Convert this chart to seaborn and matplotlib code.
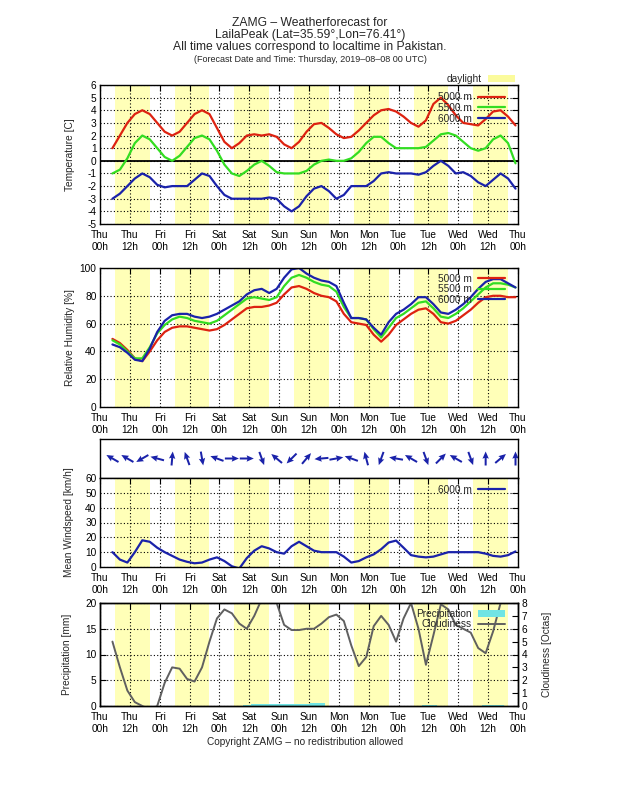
import numpy as np
import pandas as pd
import matplotlib
matplotlib.use("Agg")
import matplotlib.pyplot as plt
import seaborn as sns
from matplotlib.patches import Patch
from matplotlib.lines import Line2D

# ---------------- data (hours since Thu 00h local time) ----------------
hours = [5, 8, 11, 14, 17, 20, 23, 26, 29, 32, 35,
         38, 41, 44, 47, 50, 53, 56, 59, 62, 65, 68,
         71, 74, 77, 80, 83, 86, 89, 92, 95, 98, 101,
         104, 107, 110, 113, 116, 119, 122, 125, 128, 131, 134,
         137, 140, 143, 146, 149, 152, 155, 158, 161, 164, 167]

temp_5000 = [1.0, 2.0, 3.0, 3.7, 4.0, 3.7, 3.0, 2.3, 2.0, 2.3, 3.0,
             3.7, 4.0, 3.7, 2.6, 1.5, 1.0, 1.4, 2.0, 2.1, 2.0, 2.1,
             1.9, 1.3, 1.0, 1.5, 2.3, 2.9, 3.0, 2.6, 2.1, 1.8, 1.9,
             2.4, 3.0, 3.6, 4.0, 4.1, 3.9, 3.5, 3.0, 2.7, 3.2, 4.5,
             5.0, 4.4, 3.6, 3.0, 2.9, 2.8, 3.3, 3.9, 4.0, 3.5, 2.8]
temp_5500 = [-1.0, -0.7, 0.2, 1.4, 2.0, 1.7, 1.0, 0.3, 0.0, 0.4, 1.1,
             1.8, 2.0, 1.7, 0.8, -0.3, -1.0, -1.2, -0.8, -0.3, 0.0, -0.4,
             -0.9, -1.0, -1.0, -1.0, -0.8, -0.3, 0.0, 0.1, 0.0, 0.0, 0.2,
             0.7, 1.4, 1.9, 1.9, 1.4, 1.0, 1.0, 1.0, 1.0, 1.1, 1.6,
             2.1, 2.2, 2.0, 1.5, 1.0, 0.8, 1.0, 1.7, 2.0, 1.4, -0.2]
temp_6000 = [-3.0, -2.6, -2.0, -1.4, -1.0, -1.3, -1.9, -2.1, -2.0, -2.0, -2.0,
             -1.5, -1.0, -1.2, -2.0, -2.7, -3.0, -3.0, -3.0, -3.0, -3.0, -2.9,
             -3.0, -3.6, -4.0, -3.6, -2.8, -2.2, -2.0, -2.4, -3.0, -2.7, -2.0,
             -2.0, -2.0, -1.6, -1.0, -0.9, -1.0, -1.0, -1.0, -1.1, -0.9, -0.4,
             0.0, -0.4, -1.0, -0.9, -1.2, -1.7, -2.0, -1.5, -1.0, -1.4, -2.2]

rh_5000 = [49, 46, 41, 35, 33, 40, 48, 54, 57, 58, 58,
           57, 56, 55, 56, 59, 63, 67, 71, 72, 72, 73,
           75, 81, 86, 87, 85, 82, 80, 79, 76, 67, 61,
           60, 59, 52, 47, 52, 59, 63, 67, 70, 71, 67,
           61, 60, 62, 66, 70, 75, 79, 80, 80, 79, 79]
rh_5500 = [48, 45, 40, 35, 35, 43, 53, 59, 63, 65, 64,
           62, 61, 60, 62, 66, 70, 74, 78, 79, 78, 77,
           79, 87, 93, 95, 93, 90, 88, 87, 83, 72, 64,
           64, 63, 56, 50, 57, 64, 67, 71, 75, 76, 71,
           65, 64, 67, 71, 76, 81, 86, 89, 89, 88, 86]
rh_6000 = [45, 43, 39, 34, 33, 42, 54, 62, 66, 67, 67,
           65, 64, 65, 67, 70, 73, 76, 81, 84, 85, 82,
           85, 93, 99, 100, 96, 93, 91, 90, 87, 75, 64,
           64, 63, 57, 52, 61, 67, 70, 74, 79, 79, 74,
           68, 67, 70, 74, 79, 85, 90, 92, 92, 89, 86]

wind_6000 = [10, 5, 3, 10, 18, 17, 13, 10, 7.5, 5, 3.5,
             2.5, 3, 5, 6.5, 4, 0.5, -1, 6, 11, 14, 12.5,
             10, 9, 14, 17, 14, 11, 10, 10, 10, 7, 3,
             4, 6.5, 8.5, 12, 16.5, 17.8, 13, 8, 7, 6.5, 7,
             8.5, 10, 10, 10, 10, 10, 9, 7.5, 7, 8, 10.5]

arrow_hours = [5, 11, 17, 23, 29, 35, 41, 47, 53, 59, 65, 71, 77, 83,
               89, 95, 101, 107, 113, 119, 125, 131, 137, 143, 149, 155, 161, 167]
arrow_dir_deg = [150, 150, 210, 165, 85, 110, 280, 160, 0, 0, 290, 140, 225, 50,
                 185, 10, 160, 105, 250, 170, 150, 290, 45, 150, 290, 90, 40, 90]

cloudiness = [5.0, 3.0, 1.2, 0.3, 0.0, -0.3, 0.0, 1.8, 3.0, 2.9, 2.1,
              1.9, 3.0, 5.0, 6.8, 7.5, 7.2, 6.4, 6.0, 7.0, 8.3, 8.6,
              8.0, 6.3, 5.9, 5.9, 6.0, 6.0, 6.4, 6.9, 7.1, 6.6, 4.7,
              3.1, 3.8, 6.2, 7.0, 6.3, 5.0, 6.8, 8.0, 6.0, 3.2, 5.5,
              7.9, 7.5, 6.3, 6.0, 5.7, 4.5, 4.1, 5.8, 8.0, 9.0, 9.0]
precipitation = [0, 0, 0, 0, 0, 0, 0, 0, 0, 0, 0,
                 0, 0, 0, 0, 0, 0, 0, 0.25, 0.3, 0.45, 0.45,
                 0.35, 0.3, 0.3, 0.3, 0.35, 0.65, 0.55, 0.05, 0, 0.05, 0,
                 0, 0, 0, 0, 0, 0, 0, 0, 0, 0.1, 0.15,
                 0, 0, 0, 0, 0, 0, 0.1, 0.2, 0.1, 0, 0.05]

daylight_start = [6, 30, 54, 78, 102, 126, 150]
daylight_end = [20, 44, 68, 92, 116, 140, 164]

xtick_pos = [0, 12, 24, 36, 48, 60, 72, 84, 96, 108, 120, 132, 144, 156, 168]
xtick_labels = ["Thu\n00h", "Thu\n12h", "Fri\n00h", "Fri\n12h", "Sat\n00h", "Sat\n12h",
                "Sun\n00h", "Sun\n12h", "Mon\n00h", "Mon\n12h", "Tue\n00h", "Tue\n12h",
                "Wed\n00h", "Wed\n12h", "Thu\n00h"]

title_lines = ["ZAMG \u2013 Weatherforecast for",
               "LailaPeak (Lat=35.59\u00b0,Lon=76.41\u00b0)",
               "All time values correspond to localtime in Pakistan."]
subtitle = "(Forecast Date and Time: Thursday, 2019\u201308\u201308 00 UTC)"

# ---------------- style ----------------
sns.set_theme(style="white")
plt.rcParams["font.family"] = ["Liberation Sans", "DejaVu Sans"]
plt.rcParams["axes.unicode_minus"] = False
plt.rcParams["axes.edgecolor"] = "black"
plt.rcParams["axes.linewidth"] = 1.0

RED, GREEN, BLUE = "#dd2211", "#33dd22", "#1a22aa"
GRAY = "#606060"
YELLOW = "#ffffb8"
CYAN = "#70e4e4"
FS = 7.3

W, H = 620, 802
fig = plt.figure(figsize=(W / 100, H / 100), dpi=100)


def add_ax(top, bottom, left=100, right=518):
    return fig.add_axes([left / W, 1 - bottom / H, (right - left) / W, (bottom - top) / H])


def style(ax, yticks, ylim, xlabels=True, grid=True, daylight=True):
    ax.set_xlim(0, 168)
    ax.set_ylim(*ylim)
    ax.set_yticks(yticks)
    ax.set_yticklabels([str(t) for t in yticks])
    ax.set_xticks(xtick_pos)
    if xlabels:
        ax.set_xticklabels(xtick_labels, linespacing=1.2)
    else:
        ax.set_xticklabels([])
    ax.tick_params(direction="in", length=4, width=0.8, top=True, right=True,
                   labelsize=FS, pad=4.5, colors="black")
    ax.tick_params(axis="y", pad=2.5)
    for s in ax.spines.values():
        s.set_color("black")
        s.set_linewidth(1.0)
    if daylight:
        for a, b in zip(daylight_start, daylight_end):
            ax.axvspan(a, b, color=YELLOW, lw=0, zorder=0)
    if grid:
        ax.set_axisbelow(True)
        ax.grid(True, color="black", linestyle=(0, (1, 2)), linewidth=0.8)
    ax.set_xlabel("")


def legend(handles, labels, right_px, top_px, loc="upper right"):
    fig.legend(handles, labels, loc=loc, bbox_to_anchor=(right_px / W, 1 - top_px / H),
               frameon=False, markerfirst=False, fontsize=FS, handlelength=2.7,
               handletextpad=0.6, labelspacing=0.05, borderpad=0, borderaxespad=0)


# ---------------- title ----------------
for txt, yb in zip(title_lines, [26.5, 38, 50]):
    fig.text(310 / W, 1 - yb / H, txt, ha="center", va="baseline", fontsize=8.7)
fig.text(310 / W, 1 - 62.5 / H, subtitle, ha="center", va="baseline", fontsize=6.5)

# ---------------- temperature ----------------
ax_t = add_ax(85, 224)
style(ax_t, list(range(-5, 7)), (-5, 6))
ax_t.axhline(0, color="black", lw=1.3, zorder=1.5)
df_t = pd.DataFrame({"h": hours, "5000 m": temp_5000, "5500 m": temp_5500, "6000 m": temp_6000})
for col, c in zip(["5000 m", "5500 m", "6000 m"], [RED, GREEN, BLUE]):
    sns.lineplot(data=df_t, x="h", y=col, ax=ax_t, color=c, lw=1.6, legend=False)
ax_t.set_xlabel("")
ax_t.set_ylabel("Temperature [C]", fontsize=FS)
ax_t.yaxis.set_label_coords((75 - 100) / 418, 0.5)
legend([Line2D([], [], color=c, lw=1.6) for c in [RED, GREEN, BLUE]],
       ["5000 m", "5500 m", "6000 m"], 505, 92.5)
legend([Patch(facecolor="#fbfb9c", edgecolor="none")], ["daylight"], 515, 79, loc="center right")

# ---------------- relative humidity ----------------
ax_r = add_ax(268, 407)
style(ax_r, [0, 20, 40, 60, 80, 100], (0, 100))
df_r = pd.DataFrame({"h": hours, "5000 m": rh_5000, "5500 m": rh_5500, "6000 m": rh_6000})
for col, c in zip(["5000 m", "5500 m", "6000 m"], [RED, GREEN, BLUE]):
    sns.lineplot(data=df_r, x="h", y=col, ax=ax_r, color=c, lw=1.6, legend=False)
ax_r.set_xlabel("")
ax_r.set_ylabel("Relative Humidity [%]", fontsize=FS)
ax_r.yaxis.set_label_coords((75 - 100) / 418, 0.5)
legend([Line2D([], [], color=c, lw=1.6) for c in [RED, GREEN, BLUE]],
       ["5000 m", "5500 m", "6000 m"], 505, 273.8)

# ---------------- wind direction arrows ----------------
ax_a = add_ax(439, 478)
ax_a.set_xlim(0, 168)
ax_a.set_ylim(0, 1)
ax_a.set_xticks([])
ax_a.set_yticks([])
for s in ax_a.spines.values():
    s.set_color("black")
    s.set_linewidth(1.0)
rad = np.deg2rad(arrow_dir_deg)
ax_a.quiver(arrow_hours, [0.5] * len(arrow_hours), np.cos(rad), np.sin(rad),
            angles="uv", pivot="middle", scale_units="inches", scale=1 / 0.14,
            units="dots", width=2.0, headwidth=3.2, headlength=3.6, headaxislength=3.2,
            color=BLUE)

# ---------------- wind speed ----------------
ax_s = add_ax(478, 567)
style(ax_s, [0, 10, 20, 30, 40, 50, 60], (0, 60))
df_s = pd.DataFrame({"h": hours, "6000 m": wind_6000})
sns.lineplot(data=df_s, x="h", y="6000 m", ax=ax_s, color=BLUE, lw=1.6, legend=False)
ax_s.set_xlabel("")
ax_s.set_ylabel("Mean Windspeed [km/h]", fontsize=FS)
ax_s.yaxis.set_label_coords((74 - 100) / 418, 0.5)
legend([Line2D([], [], color=BLUE, lw=1.6)], ["6000 m"], 505, 484.8)

# ---------------- precipitation / cloudiness ----------------
ax_p = add_ax(603, 706)
style(ax_p, [0, 5, 10, 15, 20], (0, 20))
ax_p.tick_params(right=False)
ax_p.bar(hours, precipitation, width=3, color=CYAN, lw=0, zorder=1)
ax_p.set_ylabel("Precipitation [mm]", fontsize=FS)
ax_p.yaxis.set_label_coords((72 - 100) / 418, 0.5)
ax_c = ax_p.twinx()
ax_c.set_ylim(0, 8)
ax_c.set_yticks(list(range(0, 9)))
ax_c.set_yticklabels([str(i) for i in range(0, 9)])
ax_c.tick_params(direction="in", length=4, width=0.8, labelsize=FS, pad=2.5, colors="black")
df_c = pd.DataFrame({"h": hours, "Cloudiness": cloudiness})
sns.lineplot(data=df_c, x="h", y="Cloudiness", ax=ax_c, color=GRAY, lw=1.4, legend=False)
ax_c.set_xlim(0, 168)
ax_c.set_xlabel("")
ax_c.set_ylabel("Cloudiness [Octas]", fontsize=FS)
ax_c.yaxis.set_label_coords((542 - 100) / 418, 0.5)
for s in ax_c.spines.values():
    s.set_color("black")
legend([Patch(facecolor=CYAN, edgecolor="none"), Line2D([], [], color=GRAY, lw=1.4)],
       ["Precipitation", "Cloudiness"], 505, 608.8)

fig.text(305 / W, 1 - 742 / H, "Copyright ZAMG \u2013 no redistribution allowed",
         ha="center", va="center", fontsize=FS)

fig.savefig("out.png", dpi=100)
